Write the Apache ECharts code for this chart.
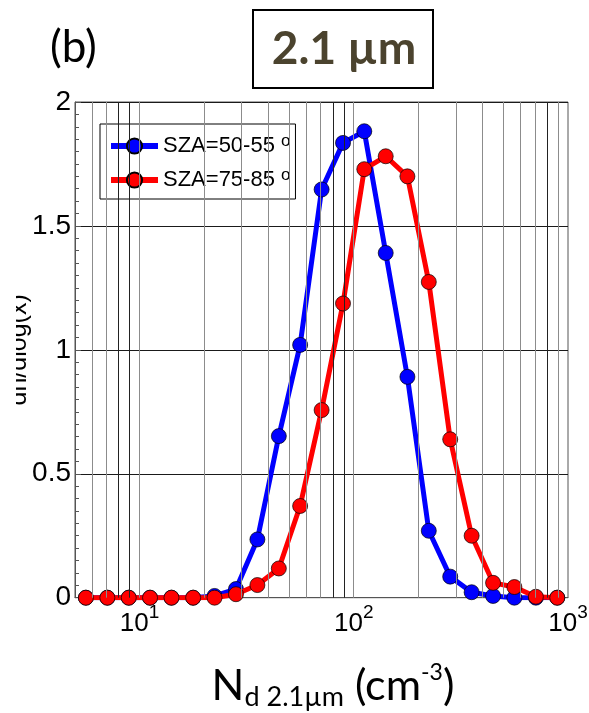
<!DOCTYPE html>
<html>
<head>
<meta charset="utf-8">
<script src="https://cdn.jsdelivr.net/npm/echarts@6/dist/echarts.min.js"></script>
<style>
html,body{margin:0;padding:0;background:#fff;}
#chart{width:589px;height:713px;}
</style>
</head>
<body>
<div id="chart"></div>
<script>
// Bin centres (cm^-3)
const xBins = [5.62, 7.08, 8.91, 11.2, 14.1, 17.8, 22.4, 28.2, 35.5, 44.7, 56.2, 70.8, 89.1, 112, 141, 178, 224, 282, 355, 447, 562, 708, 891];
const blueVals = [0, 0, 0, 0, 0, 0, 0.007, 0.035, 0.235, 0.652, 1.02, 1.647, 1.835, 1.882, 1.391, 0.891, 0.27, 0.085, 0.022, 0.007, 0, 0, 0];
const redVals  = [0, 0, 0, 0, 0, 0, 0, 0.014, 0.051, 0.118, 0.37, 0.757, 1.187, 1.729, 1.781, 1.70, 1.274, 0.639, 0.25, 0.06, 0.043, 0.004, 0];
const seriesNames = ['SZA=50-55', 'SZA=75-85'];
// Vertical log grid lines
const gridValues = [6, 7, 8, 9, 10, 20, 30, 40, 50, 60, 70, 80, 90, 100, 200, 300, 400, 500, 600, 700, 800, 900];
const darkGrid = [8, 9, 80, 90, 800];
const yTicks = [0, 0.5, 1, 1.5, 2];

const chart = echarts.init(document.getElementById('chart'), null, {renderer: 'canvas'});

const isDecade = v => {
  const l = Math.log10(v);
  return Math.abs(l - Math.round(l)) < 1e-6;
};

const option = {
  animation: false,
  backgroundColor: '#fff',
  grid: {left: 75, right: 21, top: 102, bottom: 115.3, show: true, borderColor: '#555', borderWidth: 1,
         containLabel: false, outerBoundsMode: 'none'},
  legend: {
    data: seriesNames,
    orient: 'vertical',
    left: 100, top: 124,
    padding: [9, 5, 8, 8],
    itemWidth: 47, itemHeight: 19, itemGap: 10,
    backgroundColor: '#fff', borderColor: '#000', borderWidth: 1,
    lineStyle: {width: 6},
    formatter: name => '{a|' + name + ' }{s|o}',
    textStyle: {
      rich: {
        a: {fontSize: 22, fontFamily: 'Liberation Sans', lineHeight: 26, color: '#000'},
        s: {fontSize: 17, fontFamily: 'Liberation Sans', lineHeight: 16, verticalAlign: 'top', color: '#000'}
      }
    }
  },
  xAxis: {
    type: 'log', logBase: 10, min: 5, max: 1000,
    axisLine: {show: true, lineStyle: {color: '#555', width: 1}},
    axisTick: {show: false},
    splitLine: {show: false},
    axisLabel: {
      margin: 6,
      color: '#000',
      showMinLabel: false,
      formatter: v => isDecade(v) ? '{b|10}{s|' + Math.round(Math.log10(v)) + '}' : '',
      rich: {
        b: {fontSize: 26, fontFamily: 'Liberation Sans', lineHeight: 40, color: '#000'},
        s: {fontSize: 19, fontFamily: 'Liberation Sans', lineHeight: 19, verticalAlign: 'top', color: '#000'}
      }
    }
  },
  yAxis: {
    type: 'value', min: 0, max: 2, interval: 0.5,
    name: 'dn/dlog(x)', nameLocation: 'middle', nameRotate: 90, nameGap: 43,
    nameMoveOverlap: false,
    nameTextStyle: {fontSize: 25, fontFamily: 'Liberation Sans', color: '#000'},
    axisLine: {show: true, lineStyle: {color: '#555', width: 1}},
    axisTick: {show: true, inside: true, length: 6, lineStyle: {color: '#555'}},
    minorTick: {show: true, splitNumber: 10, length: 4, lineStyle: {color: '#555'}},
    splitLine: {show: true, lineStyle: {color: '#1a1a1a', width: 1}},
    axisLabel: {fontSize: 28, fontFamily: 'Liberation Sans', color: '#000', margin: 4,
      formatter: v => yTicks.indexOf(v) >= 0 ? String(v) : ''}
  },
  series: [
    {
      type: 'line', name: '_grid', z: 1, data: [],
      silent: true, showSymbol: false,
      markLine: {
        silent: true, symbol: ['none', 'none'], animation: false,
        label: {show: false},
        lineStyle: {color: '#8c8c8c', width: 1, type: 'solid'},
        data: gridValues.map(v => darkGrid.indexOf(v) >= 0
          ? {xAxis: v, lineStyle: {color: '#222', width: 1, type: 'solid'}}
          : {xAxis: v})
      }
    },
    {
      type: 'line', name: seriesNames[0], z: 3,
      data: xBins.map((x, i) => [x, blueVals[i]]),
      symbol: 'circle', symbolSize: 15,
      lineStyle: {color: '#0000ff', width: 5},
      itemStyle: {color: '#0000ff', borderColor: '#000', borderWidth: 0.7}
    },
    {
      type: 'line', name: seriesNames[1], z: 4,
      data: xBins.map((x, i) => [x, redVals[i]]),
      symbol: 'circle', symbolSize: 15,
      lineStyle: {color: '#ff0000', width: 5},
      itemStyle: {color: '#ff0000', borderColor: '#000', borderWidth: 0.7}
    }
  ],
  graphic: [
    {type: 'rect', z: 100, shape: {x: 0, y: 0, width: 16, height: 713}, style: {fill: '#fff'}},
    {type: 'text', z: 100, x: 50, y: 26, style: {text: '(b)', font: '44px Lato', fill: '#000'}},
    {type: 'rect', z: 100, shape: {x: 253, y: 10, width: 180, height: 78}, style: {fill: 'none', stroke: '#000', lineWidth: 2}},
    {type: 'text', z: 100, x: 344, y: 49, style: {text: '2.1 µm', font: 'bold 46px Lato', fill: '#4b432e', align: 'center', verticalAlign: 'middle'}},
    {type: 'text', z: 100, x: 333, y: 711, style: {
      text: '{n|N}{sub|d 2.1µm}{n| (cm}{sup|-3}{n|)}',
      align: 'center', verticalAlign: 'bottom',
      rich: {
        n: {fontSize: 43, fontFamily: 'Lato', lineHeight: 50, fill: '#000'},
        sub: {fontSize: 27, fontFamily: 'Lato', lineHeight: 27, verticalAlign: 'bottom', fill: '#000'},
        sup: {fontSize: 23, fontFamily: 'Lato', lineHeight: 23, verticalAlign: 'top', fill: '#000'}
      }
    }}
  ]
};
chart.setOption(option);
</script>
</body>
</html>
